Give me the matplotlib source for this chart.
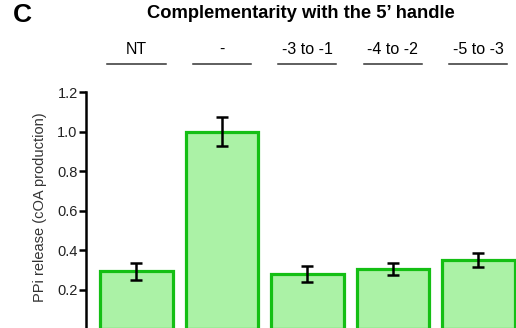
import matplotlib
matplotlib.use('Agg')
import matplotlib.pyplot as plt

# data
categories = ['NT', '-', '-3 to -1', '-4 to -2', '-5 to -3']
values = [0.293, 1.0, 0.28, 0.305, 0.352]
errors = [0.045, 0.075, 0.038, 0.03, 0.035]
yticks = [0.2, 0.4, 0.6, 0.8, 1.0, 1.2]

plt.rcParams['font.family'] = ['Liberation Sans', 'DejaVu Sans']

fig = plt.figure(figsize=(5.16, 3.28), dpi=100)
ax = fig.add_axes([86 / 516, -1.4 / 328, 430 / 516, 237.4 / 328])

x = list(range(len(categories)))
ax.bar(x, values, width=0.85, color='#abf2a6', edgecolor='#14bf14', linewidth=2.3)
ax.errorbar(x, values, yerr=errors, fmt='none', ecolor='black', elinewidth=1.8,
            capsize=4, capthick=1.8)

ax.set_xlim(-0.59, 4.44)
ax.set_ylim(0, 1.2)
ax.set_yticks(yticks)
ax.set_yticklabels(['%.1f' % t for t in yticks], fontsize=10.5, color='#222222')
ax.tick_params(axis='y', length=5, width=1.8, pad=1)
ax.set_xticks([])
for s in ['top', 'right', 'bottom']:
    ax.spines[s].set_visible(False)
ax.spines['left'].set_linewidth(1.8)
ax.set_ylabel('PPi release (cOA production)', fontsize=10.5, color='#333333')
ax.yaxis.set_label_coords(-0.09, 0.513)

# category labels with underline above each bar
trans = ax.get_xaxis_transform()
for xi, lab in zip(x, categories):
    ax.text(xi, 1.148, lab, transform=trans, ha='center', va='bottom',
            fontsize=11.5, clip_on=False)
    ax.plot([xi - 0.34, xi + 0.34], [1.118, 1.118], transform=trans,
            color='#333333', lw=1.1, clip_on=False)

fig.text(301 / 516, 1 - 13 / 328, 'Complementarity with the 5\u2019 handle',
         ha='center', va='center', fontsize=13.2, fontweight='bold')
fig.text(22 / 516, 1 - 15 / 328, 'C', ha='center', va='center',
         fontsize=19, fontweight='bold')

fig.savefig('out.png', dpi=100)
